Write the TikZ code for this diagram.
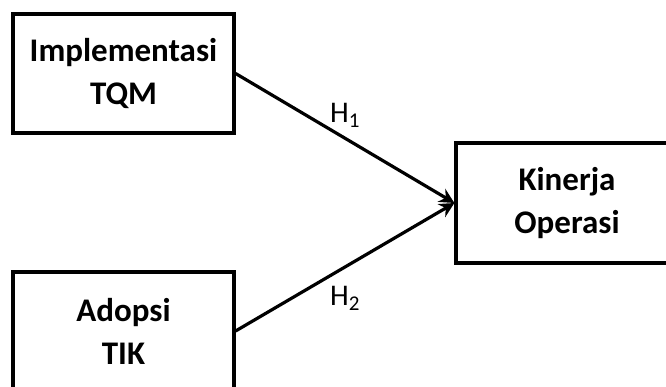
\documentclass[tikz,border=0pt]{standalone}
\usepackage{fontspec}
\setmainfont{Carlito}
\usetikzlibrary{arrows.meta}
\begin{document}
\begin{tikzpicture}[x=1pt,y=-1pt,
  box/.style={draw=black, line width=3.2pt, rectangle, align=center,
    font=\fontsize{33}{43}\selectfont\bfseries, inner sep=0pt},
  arr/.style={line width=3.2pt, -{Stealth[length=15pt,width=15pt,inset=5pt]}},
  hlab/.style={font=\fontsize{30}{36}\selectfont, inner sep=0pt}]
\clip (0,0) rectangle (666,387);
\useasboundingbox (0,0) rectangle (666,387);
\node[box, minimum width=221pt, minimum height=119pt] (tqm) at (123.5,73.5) {Implementasi\\TQM};
\node[box, minimum width=221pt, minimum height=118pt] (tik) at (123.5,331) {Adopsi\\TIK};
\node[box, minimum width=222pt, minimum height=120pt] (ko) at (567,203) {Kinerja\\Operasi};
\draw[arr] (tqm.east) -- (ko.west);
\draw[arr] (tik.east) -- (ko.west);
\node[hlab] (h1) at (345,115) {H\textsubscript{1}};
\node[hlab] (h2) at (345,298) {H\textsubscript{2}};
\end{tikzpicture}
\end{document}
